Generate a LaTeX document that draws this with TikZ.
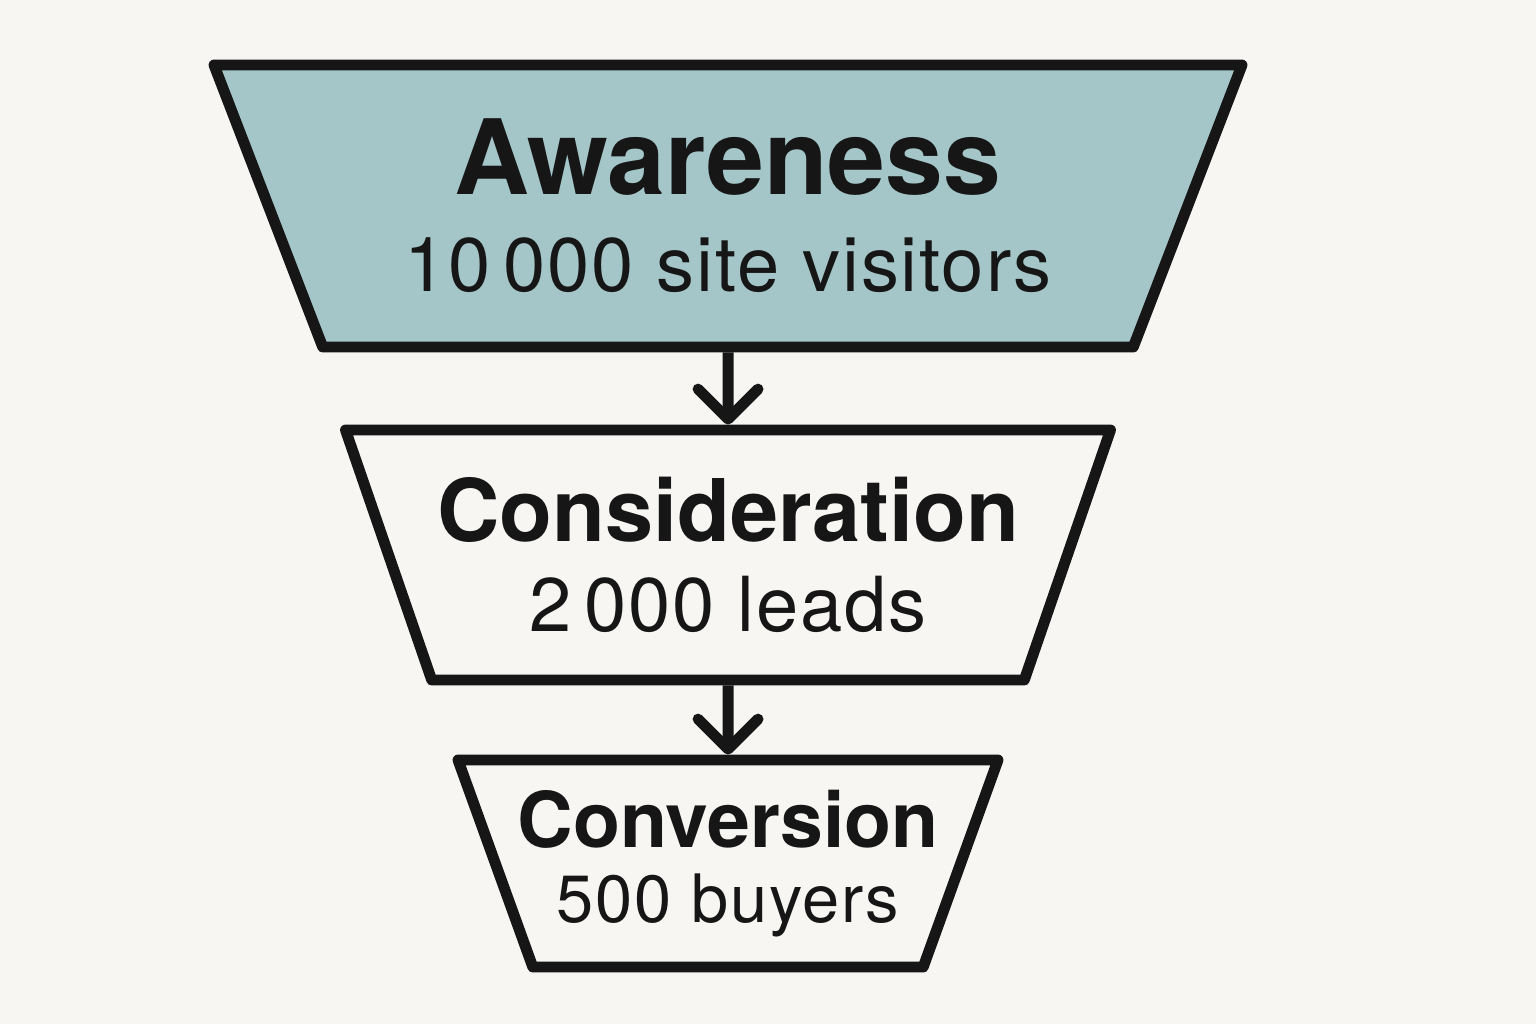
\documentclass[tikz,border=0pt]{standalone}
\usepackage{fontspec}
\setmainfont{TeX Gyre Heros}
\usepackage{xcolor}
\usepackage{tikz}
\usetikzlibrary{arrows.meta,shapes.geometric,positioning}
\definecolor{paper}{HTML}{F7F6F2}
\definecolor{ink}{HTML}{161616}
\definecolor{tealfill}{HTML}{A4C6C8}
\newcommand{\countline}{\addfontfeatures{LetterSpace=2.5}}

\begin{document}
\begin{tikzpicture}[>={Straight Barb[length=0.3cm, width=0.6cm, line cap=round, line join=round]},
  stage/.style={draw=ink, line width=3.1pt, line join=round, trapezium,
    shape border rotate=180, trapezium stretches body,
    align=center, text=ink, inner sep=0pt},
  flow/.style={->, draw=ink, line width=3.1pt}]

% ---- Canvas ----
\fill[paper] (0,0) rectangle (15.36,-10.24);
\useasboundingbox (0,0) rectangle (15.36,-10.24);

% ---- Funnel stages (top to bottom) ----
\node[stage, fill=tealfill, trapezium angle=58, minimum width=10.28cm, minimum height=2.82cm,
      font=\fontsize{21.6}{27.6}\selectfont] (aware) at (7.28, -2.06)
  {{\fontsize{29.6}{30}\selectfont\bfseries Awareness}\\\countline 10\,000 site visitors};
\node[stage, fill=paper, trapezium angle=61, minimum width=7.65cm, minimum height=2.50cm,
      font=\fontsize{21.6}{25.6}\selectfont] (consid) at (7.28, -5.55)
  {{\fontsize{24.6}{26}\selectfont\bfseries Consideration}\\\countline 2\,000 leads};
\node[stage, fill=paper, trapezium angle=63, inner xsep=-0.2cm, minimum width=5.40cm, minimum height=2.07cm,
      font=\fontsize{19}{21.3}\selectfont] (conv) at (7.28, -8.635)
  {{\fontsize{21.9}{23}\selectfont\bfseries Conversion}\\\countline 500 buyers};

% ---- Arrows between stages ----
\draw[flow] (aware.south) -- (consid.north);
\draw[flow] (consid.south) -- (conv.north);

\end{tikzpicture}
\end{document}
